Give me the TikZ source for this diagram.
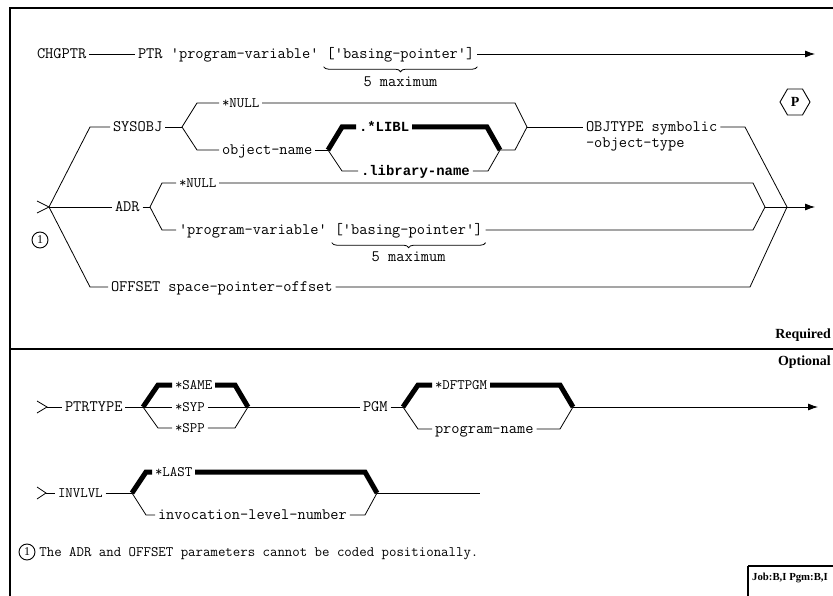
\documentclass[tikz,border=0pt]{standalone}
\usepackage{fontspec}
\setmainfont{Liberation Serif}
\newfontfamily\boldmono{Liberation Mono}
\usetikzlibrary{positioning, arrows.meta, decorations.pathreplacing, shapes.geometric}

\begin{document}
\begin{tikzpicture}[x=1bp, y=-1bp,
  txt/.style={inner sep=0pt, outer xsep=3bp, anchor=west, text height=9bp, text depth=0pt,
              font=\fontsize{16}{18}\selectfont\ttfamily},
  opt/.style={txt, font=\fontsize{14.5}{16}\selectfont\ttfamily},
  kw/.style={txt, font=\fontsize{14}{16}\selectfont\boldmono\bfseries},
  lbl/.style={inner sep=0pt, font=\fontsize{14}{16}\selectfont\bfseries},
  rail/.style={line width=0.8bp},
  dflt/.style={line width=5bp, line join=miter, line cap=butt},
  arr/.style={rail, -{Latex[length=10bp, width=7bp]}},
  brc/.style={rail, decorate, decoration={brace, mirror, amplitude=5bp}},
  nt/.style={circle, draw, line width=0.9bp, inner sep=0pt, minimum size=16bp,
             font=\fontsize{12}{12}\selectfont},
  frm/.style={line width=1.2bp},
]
\useasboundingbox (0,0) rectangle (833,596);

% Frame and dividers
\draw[frm] (10,596) -- (10,8) -- (833,8);
\draw[frm] (10,349) -- (833,349);
\draw[frm] (748,566) -- (833,566);
\draw[line width=2.2bp] (748,596) -- (748,566);

% Command line
\node[txt] (chg) at (34,54) {CHGPTR};
\node[txt] (ptr) at (135,54) {PTR 'program-variable'};
\node[txt, right=2bp of ptr] (bp1) {['basing-pointer']};
\coordinate (end1) at (815,54);
\draw[rail] (chg) -- (ptr);
\draw[arr] (bp1) -- (end1);
\draw[brc] ([yshift=-8bp]bp1.south west) -- ([yshift=-8bp]bp1.south east);
\node[txt, anchor=north] (max1) at ([yshift=-19bp]bp1.south) {5 maximum};

% Opener and main join
\coordinate (st) at (49,207);
\coordinate (mjoin) at (787,207);
\coordinate (end2) at (815,207);
\draw[rail] (37,201) -- (st) -- (37,213);
\draw[arr] (mjoin) -- (end2);

% SYSOBJ
\node[txt] (sysobj) at (110,127) {SYSOBJ};
\node[opt] (snull) at (219,103) {*NULL};
\node[txt] (objnm) at (219,150) {object-name};
\node[kw] (libl) at (356,127) {.*LIBL};
\node[kw] (libnm) at (358,171) {.library-name};
\node[txt] (objty) at (583,127) {OBJTYPE symbolic};
\node[txt] (objty2) at (583,143) {-object-type};
\node[lbl, regular polygon, regular polygon sides=6, draw, line width=0.9bp,
      minimum size=30bp] (pmark) at (795,102) {P};
\coordinate (sfork) at (182,127);
\coordinate (ofork) at (328,150);
\coordinate (ojoin) at (500,150);
\coordinate (sjoin) at (527,127);
\draw[rail] (st) -- (90,127) -- (sysobj);
\draw[rail] (sysobj) -- (sfork);
\draw[rail] (sfork) -- (197,103) -- (snull);
\draw[rail] (sfork) -- (197,150) -- (objnm);
\draw[rail] (snull) -- (515,103) -- (sjoin);
\draw[rail] (objnm) -- (ofork);
\draw[dflt] (ofork) -- (342,127) -- (libl);
\draw[dflt] (libl) -- (487,127) -- (ojoin);
\draw[rail] (ofork) -- (342,171) -- (libnm);
\draw[rail] (libnm) -- (488,171) -- (ojoin);
\draw[rail] (ojoin) -- (515,150) -- (sjoin);
\draw[rail] (sjoin) -- (objty);
\draw[rail] (objty) -- (745,127) -- (mjoin);

% ADR
\node[txt] (adr) at (112,207) {ADR};
\node[opt] (anull) at (176,183) {*NULL};
\node[txt] (apv) at (176,230) {'program-variable'};
\node[txt, right=2bp of apv] (abp) {['basing-pointer']};
\node[nt] (fn1) at (40,240) {1};
\coordinate (afork) at (150,207);
\coordinate (ajoin) at (765,207);
\draw[rail] (st) -- (adr);
\draw[rail] (adr) -- (afork);
\draw[rail] (afork) -- (162,183) -- (anull);
\draw[rail] (afork) -- (162,230) -- (apv);
\draw[rail] (anull) -- (753,183) -- (ajoin);
\draw[rail] (abp) -- (753,230) -- (ajoin);
\draw[rail] (ajoin) -- (mjoin);
\draw[brc] ([yshift=-8bp]abp.south west) -- ([yshift=-8bp]abp.south east);
\node[txt, anchor=north] (max2) at ([yshift=-18bp]abp.south) {5 maximum};

% OFFSET
\node[txt] (offs) at (108,287) {OFFSET space-pointer-offset};
\draw[rail] (st) -- (90,287) -- (offs);
\draw[rail] (offs) -- (750,287) -- (mjoin);

\node[lbl, anchor=east] (req) at (831,335) {Required};
\node[lbl, anchor=east] (optl) at (831,362) {Optional};

% PTRTYPE and PGM
\coordinate (st2) at (47,407);
\draw[rail] (37,401) -- (st2) -- (37,413);
\node[txt] (ptrty) at (62,407) {PTRTYPE};
\node[opt] (same) at (172,385) {*SAME};
\node[opt] (syp) at (172,407) {*SYP};
\node[opt] (spp) at (172,428) {*SPP};
\coordinate (pfork) at (143,407);
\coordinate (pjoin) at (248,407);
\draw[rail] (st2) -- (ptrty);
\draw[rail] (ptrty) -- (pfork);
\draw[dflt] (pfork) -- (158,385) -- (same);
\draw[dflt] (same) -- (235,385) -- (pjoin);
\draw[rail] (pfork) -- (syp);
\draw[rail] (syp) -- (pjoin);
\draw[rail] (pfork) -- (158,428) -- (spp);
\draw[rail] (spp) -- (235,428) -- (pjoin);

\node[txt] (pgm) at (360,407) {PGM};
\node[opt] (dft) at (432,385) {*DFTPGM};
\node[txt] (pgmnm) at (432,429) {program-name};
\coordinate (gfork) at (403,407);
\coordinate (gjoin) at (573,407);
\coordinate (end3) at (818,407);
\draw[rail] (pjoin) -- (pgm);
\draw[rail] (pgm) -- (gfork);
\draw[dflt] (gfork) -- (418,385) -- (dft);
\draw[dflt] (dft) -- (560,385) -- (gjoin);
\draw[rail] (gfork) -- (418,429) -- (pgmnm);
\draw[rail] (pgmnm) -- (560,429) -- (gjoin);
\draw[arr] (gjoin) -- (end3);

% INVLVL
\coordinate (st3) at (46,493);
\draw[rail] (37,487) -- (st3) -- (37,499);
\node[opt] (invl) at (55,493) {INVLVL};
\node[opt] (last) at (152,472) {*LAST};
\node[txt] (invnm) at (155,515) {invocation-level-number};
\coordinate (ifork) at (132,493);
\coordinate (ijoin) at (377,493);
\coordinate (end4) at (480,493);
\draw[rail] (st3) -- (invl);
\draw[rail] (invl) -- (ifork);
\draw[dflt] (ifork) -- (146,472) -- (last);
\draw[dflt] (last) -- (365,472) -- (ijoin);
\draw[rail] (ifork) -- (146,515) -- (invnm);
\draw[rail] (invnm) -- (365,515) -- (ijoin);
\draw[rail] (ijoin) -- (end4);

% Footnote
\node[nt] (fn2) at (27,552) {1};
\node[opt, right=1bp of fn2] (fntxt) {The ADR and OFFSET parameters cannot be coded positionally.};
\node[lbl, anchor=west, font=\fontsize{10.8}{12}\selectfont\bfseries] (job) at (752,578) {Job:B,I Pgm:B,I};

\end{tikzpicture}
\end{document}
